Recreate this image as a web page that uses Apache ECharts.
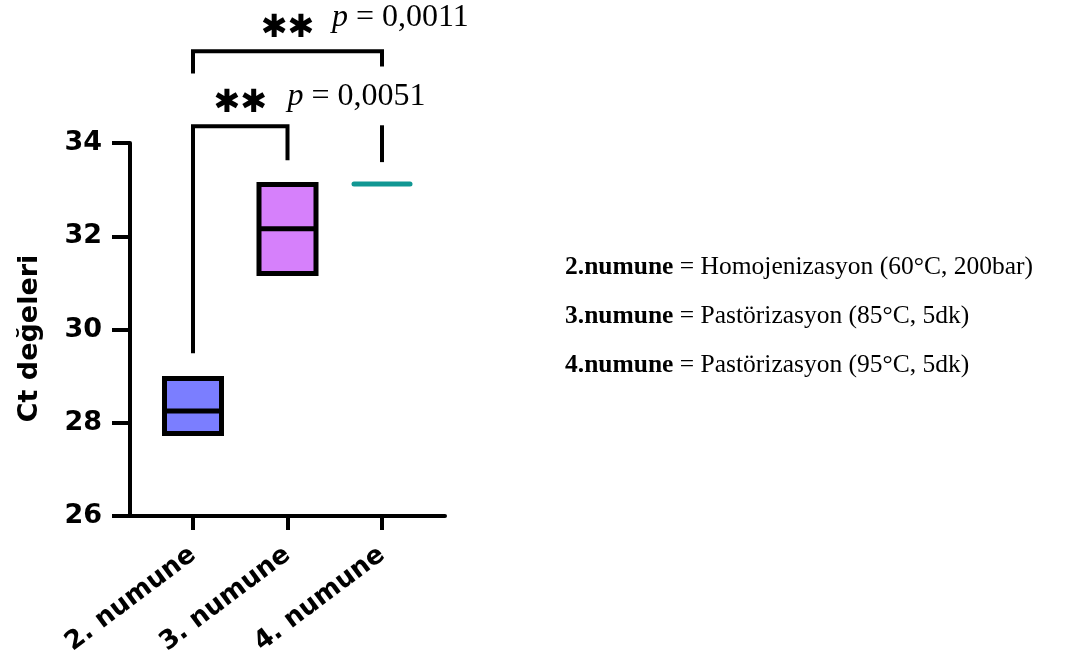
<!DOCTYPE html>
<html>
<head>
<meta charset="utf-8">
<script src="https://cdn.jsdelivr.net/npm/echarts@6/dist/echarts.min.js"></script>
<style>
  html, body { margin: 0; padding: 0; background: #fff; }
  #chart { width: 1072px; height: 664px; }
</style>
</head>
<body>
<div id="chart"></div>
<script>
// groups on the x axis (value positions 1..3)
const groups = [1, 2, 3];
const groupLabels = ['2. numune', '3. numune', '4. numune'];
// box = min/max of Ct, line = median
const boxMin = [27.77, 31.20, 33.12];
const boxMedian = [28.25, 32.16, 33.12];
const boxMax = [28.95, 33.11, 33.12];
const boxFill = ['#7b7eff', '#d680fb', '#119793'];
const yTicks = [26, 28, 30, 32, 34];

// significance brackets, in [group, Ct] units
const bracketLow = [[1, 29.49], [1, 34.36], [2, 34.36], [2, 33.63]];
const bracketStub = [[3, 34.38], [3, 33.59]];
const bracketHigh = [[1, 35.49], [1, 35.97], [3, 35.97], [3, 35.64]];
const starMarks = [[1.5, 34.85], [2.0, 36.46]];
const pValues = ['0,0051', '0,0011'];
const pMarks = [[2.0, 34.99], [2.47, 36.69]];

const legendLines = [
  ['2.numune', 'Homojenizasyon (60°C, 200bar)'],
  ['3.numune', 'Pastörizasyon (85°C, 5dk)'],
  ['4.numune', 'Pastörizasyon (95°C, 5dk)']
];

const chart = echarts.init(document.getElementById('chart'));

const bracketStyle = { color: '#000', width: 4, cap: 'butt', join: 'miter' };
const bracketSeries = [bracketLow, bracketStub, bracketHigh].map(pts => ({
  type: 'line',
  data: pts,
  clip: false,
  symbol: 'none',
  silent: true,
  lineStyle: bracketStyle
}));

const option = {
  animation: false,
  backgroundColor: '#fff',
  grid: { left: 130, right: 627, top: 143, bottom: 148 },
  xAxis: {
    type: 'value',
    min: 1 / 3,
    max: 11 / 3,
    splitLine: { show: false },
    axisLine: { show: true, lineStyle: { color: '#000', width: 4 } },
    axisTick: { show: true, customValues: groups, length: 14, lineStyle: { color: '#000', width: 4 } },
    axisLabel: {
      customValues: groups,
      formatter: v => groupLabels[Math.round(v) - 1],
      rotate: 37,
      margin: 36,
      color: '#000',
      fontFamily: 'DejaVu Sans',
      fontWeight: 'bold',
      fontSize: 26
    }
  },
  yAxis: {
    type: 'value',
    min: 26,
    max: 34,
    interval: 2,
    name: 'Ct değeleri',
    nameLocation: 'middle',
    nameGap: 87,
    nameTextStyle: { color: '#000', fontFamily: 'DejaVu Sans', fontWeight: 'bold', fontSize: 27, padding: [0, 18, 0, 0] },
    splitLine: { show: false },
    axisLine: { show: true, lineStyle: { color: '#000', width: 4 } },
    axisTick: { show: true, length: 18, lineStyle: { color: '#000', width: 4 } },
    axisLabel: {
      margin: 28,
      color: '#000',
      fontFamily: 'DejaVu Sans',
      fontWeight: 'bold',
      fontSize: 27,
      formatter: v => (yTicks.indexOf(v) >= 0 ? String(v) : '')
    }
  },
  series: [
    {
      type: 'custom',
      data: groups.map((g, i) => [g, boxMin[i], boxMedian[i], boxMax[i]]),
      renderItem: function (params, api) {
        const i = params.dataIndex;
        const x = api.value(0);
        const lo = api.coord([x, api.value(1)]);
        const md = api.coord([x, api.value(2)]);
        const hi = api.coord([x, api.value(3)]);
        const w = 57;
        if (boxMin[i] === boxMax[i]) {
          return {
            type: 'line',
            shape: { x1: lo[0] - 28, y1: lo[1], x2: lo[0] + 28, y2: lo[1] },
            style: { stroke: boxFill[i], lineWidth: 5, lineCap: 'round' }
          };
        }
        return {
          type: 'group',
          children: [
            {
              type: 'rect',
              shape: { x: lo[0] - w / 2, y: hi[1], width: w, height: lo[1] - hi[1] },
              style: { fill: boxFill[i], stroke: '#000', lineWidth: 5 }
            },
            {
              type: 'line',
              shape: { x1: lo[0] - w / 2, y1: md[1], x2: lo[0] + w / 2, y2: md[1] },
              style: { stroke: '#000', lineWidth: 5 }
            }
          ]
        };
      }
    },
    ...bracketSeries,
    {
      type: 'scatter',
      data: starMarks,
      clip: false,
      symbolSize: 0,
      silent: true,
      itemStyle: { opacity: 1 },
      label: {
        show: true,
        position: 'inside',
        formatter: '✱✱',
        color: '#000',
        opacity: 1,
        fontFamily: 'DejaVu Sans',
        fontWeight: 'bold',
        fontSize: 32,
        align: 'center',
        verticalAlign: 'middle'
      }
    },
    {
      type: 'scatter',
      data: pMarks,
      clip: false,
      symbolSize: 0,
      silent: true,
      itemStyle: { opacity: 1 },
      label: {
        show: true,
        position: 'inside',
        formatter: p => '{i|p} = ' + pValues[p.dataIndex],
        color: '#000',
        opacity: 1,
        fontFamily: 'Liberation Serif',
        fontSize: 32,
        align: 'left',
        verticalAlign: 'middle',
        rich: {
          i: { fontStyle: 'italic', fontFamily: 'Liberation Serif', fontSize: 32, color: '#000' }
        }
      }
    }
  ],
  graphic: legendLines.map((ln, i) => ({
    type: 'text',
    left: 565,
    top: 254 + i * 49,
    style: {
      text: '{b|' + ln[0] + '} = ' + ln[1],
      fill: '#000',
      font: '25.5px "Liberation Serif"',
      rich: {
        b: { fontWeight: 'bold', fontFamily: 'Liberation Serif', fontSize: 25.5, fill: '#000' }
      }
    }
  }))
};

chart.setOption(option);
</script>
</body>
</html>
